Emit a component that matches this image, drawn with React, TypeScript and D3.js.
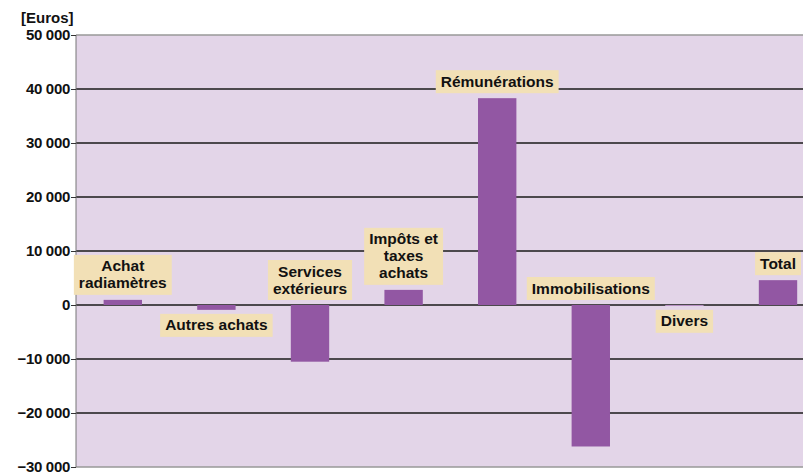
import React, { useRef, useEffect } from 'react';
import * as d3 from 'd3';

const categories = [
  'Achat radiamètres',
  'Autres achats',
  'Services extérieurs',
  'Impôts et taxes achats',
  'Rémunérations',
  'Immobilisations',
  'Divers',
  'Total',
];
const labelLines = [
  ['Achat', 'radiamètres'],
  ['Autres achats'],
  ['Services', 'extérieurs'],
  ['Impôts et', 'taxes', 'achats'],
  ['Rémunérations'],
  ['Immobilisations'],
  ['Divers'],
  ['Total'],
];
const values = [950, -900, -10500, 2800, 38300, -26200, -150, 4600];
const labelSide = ['above', 'below', 'above', 'above', 'above', 'above', 'below', 'above'];
const yTicks = [-30000, -20000, -10000, 0, 10000, 20000, 30000, 40000, 50000];

const FONT = '"Liberation Sans", Arial, sans-serif';

const App = () => {
  const svgRef = useRef<SVGSVGElement>(null);

  useEffect(() => {
    const width = 803;
    const height = 473;
    const left = 76;
    const top = 35;
    const bottom = 467;

    const svg = d3.select(svgRef.current)
      .attr('width', width)
      .attr('height', height);
    svg.selectAll('*').remove();

    const x = d3.scaleBand<string>()
      .domain(categories)
      .range([left, left + 8 * 93.6])
      .paddingInner(0.59)
      .paddingOuter(0.295);

    const y = d3.scaleLinear().domain([-30000, 50000]).range([bottom, top]);

    // plot background
    svg.append('rect')
      .attr('x', left).attr('y', top)
      .attr('width', width - left).attr('height', bottom - top)
      .attr('fill', '#e3d5e8');

    // grid lines
    svg.append('g')
      .selectAll('line')
      .data(yTicks)
      .enter().append('line')
      .attr('x1', left).attr('x2', width)
      .attr('y1', d => y(d)).attr('y2', d => y(d))
      .attr('stroke', d => (d === -30000 || d === 50000) ? '#999' : '#1a1a1a')
      .attr('stroke-width', 1.3);

    // left axis
    const axis = svg.append('g')
      .attr('transform', `translate(${left},0)`)
      .call(d3.axisLeft(y).tickValues(yTicks).tickSize(5).tickFormat(d => d3.format(',')(d as number).replace(/,/g, ' ')));
    axis.select('.domain').attr('stroke', '#777').attr('d', `M0,${top}V${bottom}`);
    axis.selectAll('.tick line').attr('stroke', '#333');
    axis.selectAll('.tick text')
      .attr('font-family', FONT)
      .attr('font-weight', 'bold')
      .attr('font-size', 15)
      .attr('letter-spacing', -0.3)
      .attr('fill', '#111')
      .attr('x', -6);

    svg.append('text')
      .attr('x', 21).attr('y', 23)
      .attr('font-family', FONT)
      .attr('font-weight', 'bold')
      .attr('font-size', 15)
      .attr('fill', '#111')
      .text('[Euros]');

    // bars
    svg.append('g')
      .selectAll('rect')
      .data(values)
      .enter().append('rect')
      .attr('x', (_, i) => x(categories[i])!)
      .attr('width', x.bandwidth())
      .attr('y', d => y(Math.max(0, d)))
      .attr('height', d => Math.max(1, Math.abs(y(d) - y(0))))
      .attr('fill', (d, i) => i === 6 ? '#b58fc0' : '#9257a3');

    // labels
    const lineH = 17;
    const fontSize = 15.5;
    const labels = svg.append('g');
    categories.forEach((c, i) => {
      const cx = x(c)! + x.bandwidth() / 2;
      const lines = labelLines[i];
      const g = labels.append('g');
      const texts = lines.map(l =>
        g.append('text')
          .attr('x', cx)
          .attr('text-anchor', 'middle')
          .attr('font-family', FONT)
          .attr('font-weight', 'bold')
          .attr('font-size', fontSize)
          .attr('fill', '#111')
          .text(l));
      const w = d3.max(texts, t => (t.node() as SVGTextElement).getComputedTextLength())!;
      const boxH = lines.length * lineH + 6;
      const boxTop = labelSide[i] === 'above'
        ? y(Math.max(0, values[i])) - 5 - boxH
        : y(Math.min(0, values[i])) + 4;
      g.insert('rect', 'text')
        .attr('x', cx - w / 2 - 5)
        .attr('y', boxTop)
        .attr('width', w + 10)
        .attr('height', boxH)
        .attr('fill', '#f2e0b6');
      texts.forEach((t, j) => t.attr('y', boxTop + 3 + lineH * j + 13.5));
    });
  }, []);

  return <svg ref={svgRef} style={{ position: 'absolute', left: 0, top: 0 }}></svg>;
};

export default App;
